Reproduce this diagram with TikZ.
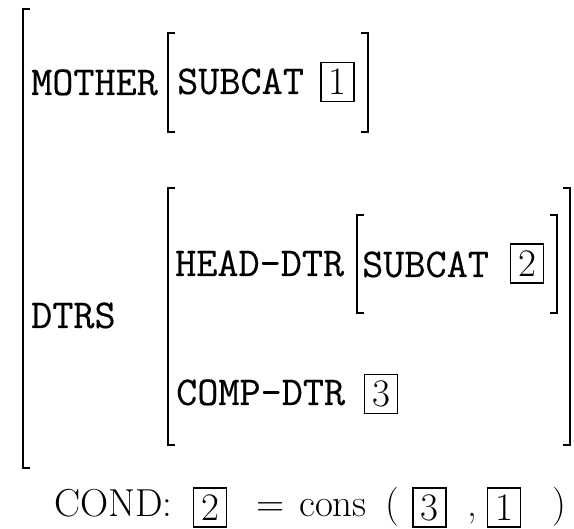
\documentclass[tikz,border=0pt]{standalone}
\usepackage{fontspec}
% typewriter face for feature names, slightly emboldened
\newfontfamily\avmfont[FakeBold=0.3]{Latin Modern Mono}
\tikzset{
  ttlabel/.style={font=\fontsize{41}{49}\selectfont\avmfont, anchor=base west, inner sep=0pt},
  rmlabel/.style={font=\fontsize{39}{47}\selectfont, anchor=base west, inner sep=0pt},
  tag/.style={draw, line width=1.2pt, minimum width=33pt, minimum height=39pt, inner sep=0pt,
              font=\fontsize{39}{47}\selectfont},
  brk/.style={line width=1.8pt},
  outerbrk/.style={line width=1.3pt}
}
\begin{document}
\begin{tikzpicture}[x=1pt,y=-1pt]
\useasboundingbox (0,0) rectangle (574,529);

% outer structure: left bracket only
\draw[outerbrk] (30,9) -- (23,9) -- (23,468) -- (30,468);

% MOTHER row
\node[ttlabel] (mother) at (31,95) {MOTHER};
\draw[brk] (175,33) -- (168,33) -- (168,132) -- (175,132);
\node[ttlabel] (msubcat) at (177,94) {SUBCAT};
\node[tag] (tagA) at (337.5,82) {1};
\draw[brk] (361,33) -- (368,33) -- (368,132) -- (361,132);

% DTRS row
\node[ttlabel] (dtrs) at (31,328) {DTRS};
\draw[brk] (175,188) -- (168,188) -- (168,445) -- (175,445);
\draw[brk] (563,188) -- (570,188) -- (570,445) -- (563,445);

\node[ttlabel] (headdtr) at (175,276) {HEAD-DTR};
\draw[brk] (364,215) -- (357,215) -- (357,313) -- (364,313);
\node[ttlabel] (hsubcat) at (362,277) {SUBCAT};
\node[tag] (tagB) at (527,263.5) {2};
\draw[brk] (550,215) -- (557,215) -- (557,313) -- (550,313);

\node[ttlabel] (compdtr) at (176,405) {COMP-DTR};
\node[tag] (tagC) at (381,394) {3};

% condition line
\node[rmlabel] (cond) at (54,517) {COND:};
\node[tag] (cB) at (210,507.5) {2};
\node[rmlabel] (eq) at (256,517) {=};
\node[rmlabel] (cons) at (299,517) {cons};
\node[rmlabel] (lp) at (385,517) {(};
\node[tag] (cC) at (429.5,507.5) {3};
\node[rmlabel] (comma) at (467,517) {,};
\node[tag] (cA) at (504,507.5) {1};
\node[rmlabel] (rp) at (552,517) {)};
\end{tikzpicture}
\end{document}
